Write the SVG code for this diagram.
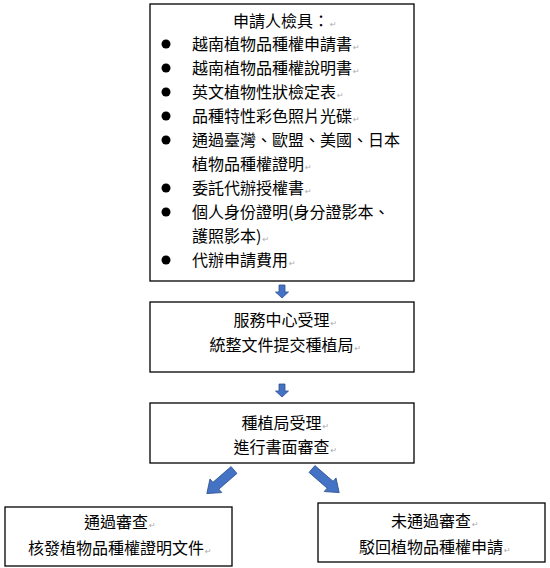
<svg xmlns="http://www.w3.org/2000/svg" width="550" height="568" viewBox="0 0 550 568">
<style>
.box{fill:#fff;stroke:#000;stroke-width:1.3}
.t{font-family:"Noto Sans CJK TC","Noto Sans CJK SC",sans-serif;font-size:16px;fill:#000}
.m{font-family:"DejaVu Sans",sans-serif;font-size:8px;fill:#aaa}
.arr{fill:#4472C4;stroke:#2F528F;stroke-width:0.8}
.b{fill:#000}
</style>
<defs>
<path id="down" class="arr" d="M-3,0 L3,0 L3,7 L6.5,7 L0,13 L-6.5,7 L-3,7 Z"/>
<path id="diag" class="arr" d="M-4.5,0 L4.5,0 L4.5,24 L9,24 L0,36 L-9,24 L-4.5,24 Z"/>
</defs>
<rect width="550" height="568" fill="#fff"/>
<g id="node-docs">
<rect class="box" x="150" y="4" width="264" height="277"/>
<text class="t" x="233" y="27">申請人檢具：<tspan class="m" dx="1">↵</tspan></text>
<circle class="b" cx="166" cy="44" r="4.5"/>
<circle class="b" cx="166" cy="68" r="4.5"/>
<circle class="b" cx="166" cy="92" r="4.5"/>
<circle class="b" cx="166" cy="116" r="4.5"/>
<circle class="b" cx="166" cy="140" r="4.5"/>
<circle class="b" cx="166" cy="188" r="4.5"/>
<circle class="b" cx="166" cy="212" r="4.5"/>
<circle class="b" cx="166" cy="260" r="4.5"/>
<text class="t" x="192" y="50">越南植物品種權申請書<tspan class="m" dx="1">↵</tspan></text>
<text class="t" x="192" y="74">越南植物品種權說明書<tspan class="m" dx="1">↵</tspan></text>
<text class="t" x="192" y="98">英文植物性狀檢定表<tspan class="m" dx="1">↵</tspan></text>
<text class="t" x="192" y="122">品種特性彩色照片光碟<tspan class="m" dx="1">↵</tspan></text>
<text class="t" x="192" y="146">通過臺灣、歐盟、美國、日本</text>
<text class="t" x="192" y="170">植物品種權證明<tspan class="m" dx="1">↵</tspan></text>
<text class="t" x="192" y="194">委託代辦授權書<tspan class="m" dx="1">↵</tspan></text>
<text class="t" x="192" y="218">個人身份證明(身分證影本、</text>
<text class="t" x="192" y="242">護照影本)<tspan class="m" dx="1">↵</tspan></text>
<text class="t" x="192" y="266">代辦申請費用<tspan class="m" dx="1">↵</tspan></text>
</g>
<g id="node-service">
<rect class="box" x="150" y="302" width="264" height="70"/>
<text class="t" x="233.5" y="326">服務中心受理<tspan class="m" dx="1">↵</tspan></text>
<text class="t" x="209.5" y="351">統整文件提交種植局<tspan class="m" dx="1">↵</tspan></text>
</g>
<g id="node-bureau">
<rect class="box" x="150" y="403" width="264" height="60"/>
<text class="t" x="241.5" y="429">種植局受理<tspan class="m" dx="1">↵</tspan></text>
<text class="t" x="233.5" y="453">進行書面審查<tspan class="m" dx="1">↵</tspan></text>
</g>
<g id="node-pass">
<rect class="box" x="5" y="507" width="227" height="59"/>
<text class="t" x="84" y="528">通過審查<tspan class="m" dx="1">↵</tspan></text>
<text class="t" x="28" y="554">核發植物品種權證明文件<tspan class="m" dx="1">↵</tspan></text>
</g>
<g id="node-fail">
<rect class="box" x="318" y="503" width="227" height="59"/>
<text class="t" x="391" y="527">未通過審查<tspan class="m" dx="1">↵</tspan></text>
<text class="t" x="359" y="553">駁回植物品種權申請<tspan class="m" dx="1">↵</tspan></text>
</g>
<g id="connectors">
<use href="#down" transform="translate(282,285)"/>
<use href="#down" transform="translate(282,384)"/>
<use href="#diag" transform="translate(234,470) rotate(49)"/>
<use href="#diag" transform="translate(312,469) rotate(-49)"/>
</g>
</svg>
